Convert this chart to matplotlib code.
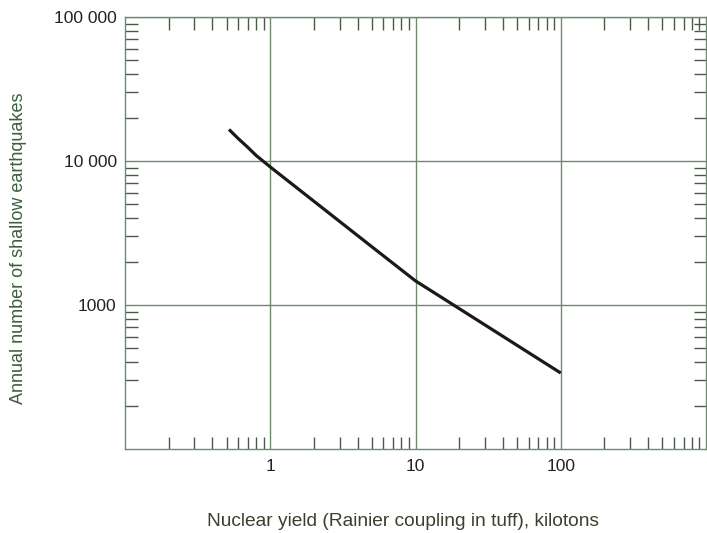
import matplotlib
matplotlib.use("Agg")
import matplotlib.pyplot as plt
from matplotlib.ticker import FixedLocator, FixedFormatter, LogLocator, NullFormatter

plt.rcParams['font.family'] = ['Liberation Sans', 'DejaVu Sans']

# Data
yield_kt = [0.52, 0.6, 0.7, 0.8, 1, 2, 5, 10, 15, 20, 50, 100]
quakes = [16560, 14360, 12450, 10920, 9090, 5250, 2540, 1470, 1135, 944, 525, 337]

x_ticks = [1, 10, 100]
x_tick_labels = ["1", "10", "100"]
y_ticks = [1000, 10000, 100000]
y_tick_labels = ["1000", "10 000", "100 000"]

fig = plt.figure(figsize=(7.07, 5.33), dpi=100)
ax = fig.add_axes([125/707, 1-449/533, 581/707, 432/533])

ax.plot(yield_kt, quakes, color="#1a1a1a", lw=2.3, solid_capstyle="butt",
        solid_joinstyle="round")

ax.set_xscale("log")
ax.set_yscale("log")
ax.set_xlim(0.1, 1000)
ax.set_ylim(100, 100000)

grid_c = "#6f8a6f"
ax.xaxis.set_major_locator(FixedLocator(x_ticks))
ax.xaxis.set_major_formatter(FixedFormatter(x_tick_labels))
ax.yaxis.set_major_locator(FixedLocator(y_ticks))
ax.yaxis.set_major_formatter(FixedFormatter(y_tick_labels))
ax.xaxis.set_minor_locator(LogLocator(base=10, subs=range(2, 10), numticks=20))
ax.yaxis.set_minor_locator(LogLocator(base=10, subs=range(2, 10), numticks=20))
ax.xaxis.set_minor_formatter(NullFormatter())
ax.yaxis.set_minor_formatter(NullFormatter())

ax.grid(True, which="major", color=grid_c, lw=1.0)
ax.tick_params(which="both", direction="in", top=True, right=True,
               color="#4a5a4a", width=1.0)
ax.tick_params(which="minor", length=9)
ax.tick_params(which="major", length=0, labelsize=12.5, labelcolor="#222222")
ax.tick_params(axis="x", which="major", pad=7)
ax.tick_params(axis="y", which="major", pad=6)

for s in ax.spines.values():
    s.set_color(grid_c)
    s.set_linewidth(1.0)

fig.text(19/707, 1-248/533, "Annual number of shallow earthquakes", fontsize=13,
         color="#3d5e3d", rotation=90, ha="center", va="center")
fig.text(403/707, 1-521/533, "Nuclear yield (Rainier coupling in tuff), kilotons",
         fontsize=13.8, color="#3b3f2f", ha="center", va="center")

fig.savefig("out.png", dpi=100)
